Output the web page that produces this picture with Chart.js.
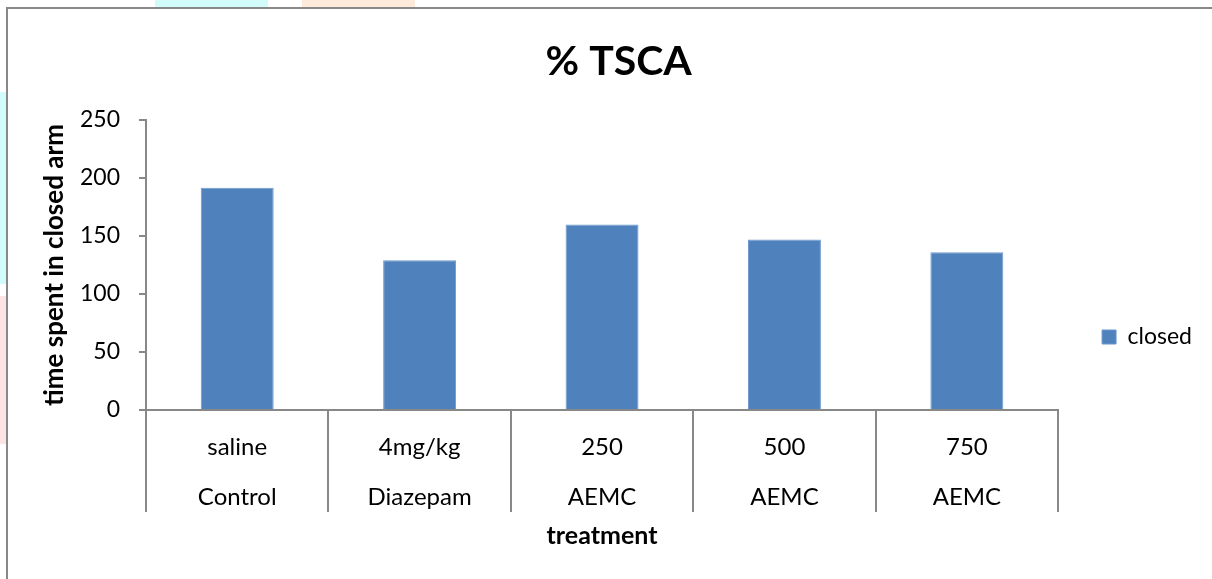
<!DOCTYPE html>
<html>
<head>
<meta charset="utf-8">
<title>% TSCA</title>
<script src="https://cdn.jsdelivr.net/npm/chart.js@4.4.1/dist/chart.umd.min.js"></script>
<style>
  html, body { margin: 0; padding: 0; background: #fff; overflow: hidden; }
  #page { position: relative; width: 1212px; height: 579px; overflow: hidden; }
  .wm { position: absolute; }
  #frame { position: absolute; left: 6px; top: 7px; width: 1230px; height: 600px; border: 2px solid #888; background: #fff; }
  #chart { position: absolute; left: 0; top: 0; }
</style>
</head>
<body>
<div id="page">
  <div class="wm" style="left:155px;top:0;width:113px;height:8px;background:#d2fbfb"></div>
  <div class="wm" style="left:302px;top:0;width:113px;height:8px;background:#feeadb"></div>
  <div class="wm" style="left:0;top:92px;width:6px;height:192px;background:#d2fbfb"></div>
  <div class="wm" style="left:0;top:296px;width:6px;height:148px;background:#fde4e4"></div>
  <div id="frame"></div>
  <canvas id="chart" width="1212" height="579"></canvas>
</div>
<script>
// values
const categories = [
  ['saline', 'Control'],
  ['4mg/kg', 'Diazepam'],
  ['250', 'AEMC'],
  ['500', 'AEMC'],
  ['750', 'AEMC']
];
const closedValues = [191.5, 129, 160, 147, 136];
const yTicks = [0, 50, 100, 150, 200, 250];

const axisGrey = '#888';
Chart.defaults.font.family = 'Lato';
Chart.defaults.color = '#000';

const ctx = document.getElementById('chart').getContext('2d');
new Chart(ctx, {
  type: 'bar',
  data: {
    labels: categories,
    datasets: [{
      label: 'closed',
      data: closedValues,
      backgroundColor: '#4F81BD',
      borderColor: '#6d98cc',
      borderWidth: 1,
      barPercentage: 0.4,
      categoryPercentage: 1
    }]
  },
  options: {
    responsive: false,
    animation: false,
    layout: { padding: { left: 35.4, top: 0, right: 10, bottom: 24 } },
    plugins: {
      title: {
        display: true,
        text: '% TSCA',
        font: { size: 41, weight: 'bold' },
        color: '#000',
        padding: { top: 37.4, bottom: 33.4 }
      },
      legend: {
        position: 'right',
        title: { display: true, text: ' ', font: { size: 12 }, padding: { top: 0, bottom: 104.6 } },
        labels: {
          boxWidth: 14,
          boxHeight: 14,
          padding: 44,
          font: { size: 23 },
          color: '#000'
        }
      },
      tooltip: { enabled: false }
    },
    scales: {
      x: {
        // long tick marks act as the category separators under the axis
        grid: { drawOnChartArea: false, offset: true, tickLength: 102, color: axisGrey, lineWidth: 2 },
        border: { color: axisGrey, width: 2 },
        ticks: { font: { size: 24, lineHeight: 50 / 24 }, padding: -90, maxRotation: 0, autoSkip: false },
        title: { display: true, text: 'treatment', font: { size: 25, weight: 'bold' } },
        afterFit: (scale) => { scale.height = 145; }
      },
      y: {
        min: yTicks[0],
        max: yTicks[yTicks.length - 1],
        afterBuildTicks: (scale) => { scale.ticks = yTicks.map(v => ({ value: v })); },
        grid: { drawOnChartArea: false, tickLength: 7, color: axisGrey, lineWidth: 2 },
        border: { color: axisGrey, width: 2 },
        ticks: { font: { size: 23 }, padding: 19 },
        title: { display: true, text: 'time spent in closed arm', font: { size: 26, weight: 'bold' } },
        afterFit: (scale) => { scale.width = 110.6; }
      }
    }
  }
});
</script>
</body>
</html>
